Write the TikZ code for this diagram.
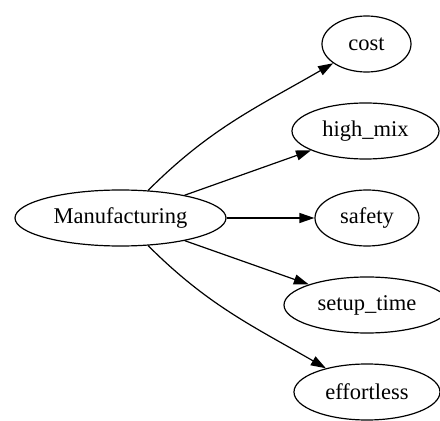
\documentclass[tikz,border=0pt]{standalone}
\usepackage{fontspec}
\setmainfont{Liberation Serif}
\usetikzlibrary{shapes.geometric, arrows.meta}

\begin{document}
\begin{tikzpicture}[x=1pt,y=1pt,
	item/.style={draw, ellipse, line width=1.2pt, inner sep=0pt, minimum height=56pt,
		font=\fontsize{22.5}{26}\selectfont},
	link/.style={line width=1.2pt, -{Triangle[length=15pt,width=10pt]}}]

	\useasboundingbox (0,0) rectangle (440,421);%画布

	\node [item, minimum width=211pt] (man) at (120.5,203) {Manufacturing};%左边结点
	\node [item, minimum width=89pt] (cost) at (366.5,377) {cost};
	\node [item, minimum width=147pt] (highmix) at (365.5,290) {high\_mix};
	\node [item, minimum width=104pt] (safety) at (367,203) {safety};
	\node [item, minimum width=166pt] (setup) at (367,116) {setup\_time};
	\node [item, minimum width=146pt] (effort) at (367,29) {effortless};

	\draw [link] (man) to [out=45, in=210] (cost);%上曲线
	\draw [link] (man) -- (highmix);
	\draw [link] (man) -- (safety);
	\draw [link] (man) -- (setup);
	\draw [link] (man) to [out=-45, in=150] (effort);%下曲线

\end{tikzpicture}
\end{document}
